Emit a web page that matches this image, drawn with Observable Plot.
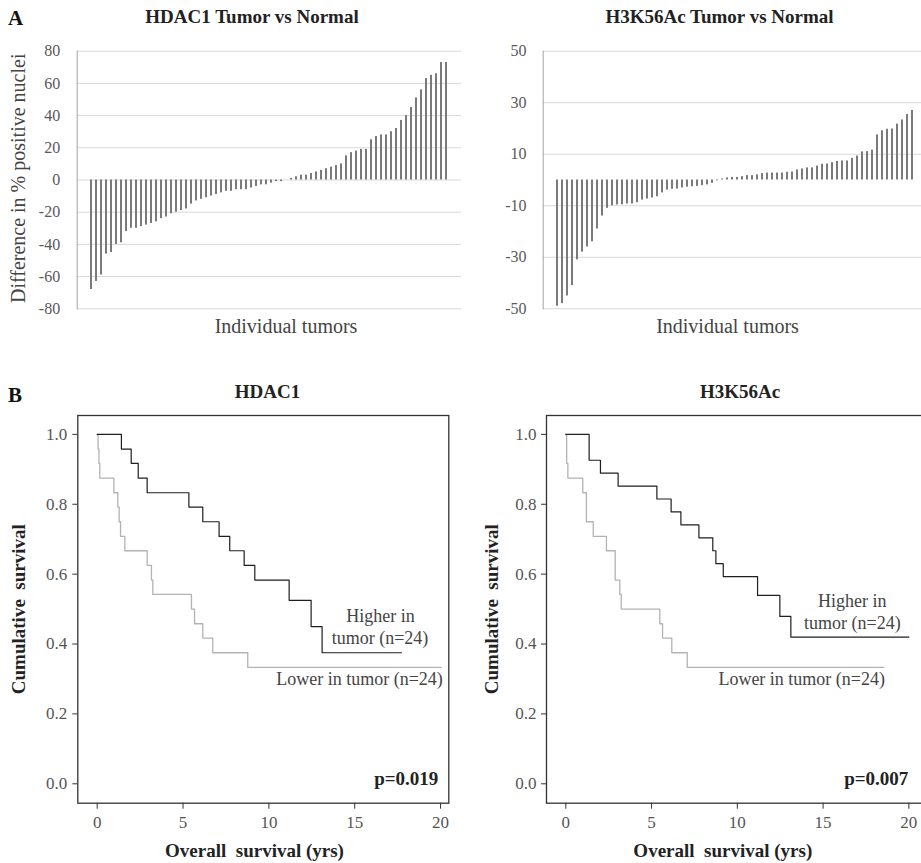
<!DOCTYPE html>
<html><head><meta charset="utf-8">
<script src="https://cdn.jsdelivr.net/npm/d3@7"></script>
<script src="https://cdn.jsdelivr.net/npm/@observablehq/plot@0.6"></script>
<style>
body{margin:0;background:#fff;}
#wrap{position:relative;width:921px;height:863px;overflow:hidden;background:#fff;}
#wrap > svg{position:absolute;}
</style></head><body><div id="wrap"></div>
<script>
// ---- Panel A data: difference in % positive nuclei, tumor minus normal, sorted ----
const hdac1Diff = [-68,-63,-59,-46,-45,-40,-39,-32,-30,-30,-29,-28,-27,-26,-24,-23,-21,-20,-19,-18,
  -15,-13,-12,-11,-10,-9,-8,-7,-7,-6,-6,-6,-5,-4,-3,-3,-2,-1,-1,0,
  1,2,3,3,4,5,6,7,8,9,10,15,17,18,19,19,25,27,28,28,30,32,37,40,45,51,56,63,65,66,73,73];
const h3k56Diff = [-49,-48,-45,-41,-31,-28,-26,-24,-19,-14,-11,-10,-9.7,-9.6,-9.3,-9.3,-8.8,-7.8,-7.4,-7,
  -6.5,-5,-3.9,-3.6,-3.5,-3.1,-2.8,-2.6,-2.5,-2.2,-1.9,-1.3,-0.3,
  0.4,0.8,1,1,1.3,1.7,1.7,2,2.5,2.7,2.7,2.7,2.7,3,3.1,3.9,4.3,4.7,4.7,5.4,6.1,6.2,6.7,7.2,7.4,7.4,
  8.4,9.3,10.9,11,11.6,17.5,19.1,19.7,19.8,21.7,23.3,25.4,27];
const hdac1DiffTicks = [80,60,40,20,0,-20,-40,-60,-80];
const h3k56DiffTicks = [50,30,10,-10,-30,-50];

// ---- Panel B data: Kaplan-Meier step points (time in yrs, cumulative survival) ----
const hdac1HighT = [0,1.41,1.98,2.39,2.91,5.34,6.15,7.10,7.72,8.56,9.18,11.18,12.46,13.10,17.72];
const hdac1HighS = [1,0.958,0.917,0.875,0.833,0.792,0.75,0.708,0.667,0.625,0.583,0.525,0.45,0.375,0.375];
const hdac1LowT  = [0,0.05,0.10,0.15,0.97,1.20,1.28,1.36,1.61,2.91,3.16,3.24,5.49,5.67,6.15,6.73,8.77,20.03];
const hdac1LowS  = [1,0.958,0.917,0.875,0.833,0.792,0.75,0.708,0.667,0.625,0.583,0.542,0.5,0.458,0.417,0.375,0.333,0.333];
const h3k56HighT = [0,1.36,2.02,3.05,5.31,6.14,6.71,7.76,8.57,8.75,9.18,11.18,12.48,13.12,20];
const h3k56HighS = [1,0.926,0.889,0.852,0.815,0.778,0.741,0.704,0.667,0.630,0.593,0.539,0.479,0.420,0.420];
const h3k56LowT  = [0,0.05,0.12,0.99,1.20,1.60,2.37,2.88,3.15,3.23,5.48,5.64,6.18,7.08,18.54];
const h3k56LowS  = [1,0.917,0.875,0.833,0.75,0.708,0.667,0.583,0.542,0.5,0.458,0.417,0.375,0.333,0.333];
const survTicks = [0,0.2,0.4,0.6,0.8,1.0];
const yearTicks = [0,5,10,15,20];

const FONT = 'Times';
const wrap = document.getElementById("wrap");

function place(svg, left, top) {
  svg.style.left = left + "px";
  svg.style.top = top + "px";
  wrap.appendChild(svg);
}

function barPanel(values, ticks, ml, mr, tp) {
  const data = values.map((v, i) => ({i, v}));
  return Plot.plot({
    width: 470, height: 320,
    marginTop: 50.7, marginBottom: 11.7, marginLeft: ml, marginRight: mr,
    style: {fontFamily: FONT, fontSize: "16px", color: "#595959", background: "transparent", overflow: "visible"},
    x: {type: "band", domain: d3.range(values.length), paddingInner: 0.6, paddingOuter: 0.27, axis: null},
    y: {domain: [ticks[ticks.length - 1], ticks[0]]},
    marks: [
      Plot.gridY(ticks, {stroke: "#d9d9d9", strokeOpacity: 1}),
      Plot.frame({anchor: "left", stroke: "#a6a6a6"}),
      Plot.barY(data, {x: "i", y: "v", fill: "#7a7a7a"}),
      Plot.axisY(ticks, {tickSize: 0, tickPadding: tp, fill: "#595959", fontFamily: FONT, label: null, tickFormat: d => String(d)})
    ]
  });
}

function kmPanel(hT, hS, lT, lS, ml, mr, xd, tp) {
  const high = hT.map((t, i) => ({t, s: hS[i]}));
  const low = lT.map((t, i) => ({t, s: lS[i]}));
  return Plot.plot({
    width: 470, height: 440,
    marginTop: 15, marginBottom: 37.3, marginLeft: ml, marginRight: mr,
    style: {fontFamily: FONT, fontSize: "17px", color: "#444", background: "transparent", overflow: "visible"},
    x: {domain: xd},
    y: {domain: [-0.0555, 1.054]},
    marks: [
      Plot.line(low, {x: "t", y: "s", curve: "step-after", stroke: "#b3b3b3", strokeWidth: 1.3}),
      Plot.line(high, {x: "t", y: "s", curve: "step-after", stroke: "#1f1f1f", strokeWidth: 1.2}),
      Plot.frame({stroke: "#333", strokeWidth: 1.3}),
      Plot.axisY(survTicks, {tickSize: 5, tickPadding: tp, stroke: "#333", fill: "#555", fontFamily: FONT, label: null, tickFormat: d => d.toFixed(1)}),
      Plot.axisX(yearTicks, {tickSize: 6, tickPadding: 7, stroke: "#333", fill: "#555", fontFamily: FONT, label: null, tickFormat: d => String(d)})
    ]
  });
}

place(barPanel(hdac1Diff, hdac1DiffTicks, 76.7, 9, 17), 0, 0);
place(barPanel(h3k56Diff, h3k56DiffTicks, 82.7, 2.9, 16.7), 460, 0);
place(kmPanel(hdac1HighT, hdac1HighS, hdac1LowT, hdac1LowS, 77.3, 21.7, [-1.13, 20.48], 5.6), 0, 400);
place(kmPanel(h3k56HighT, h3k56HighS, h3k56LowT, h3k56LowS, 86, 5, [-1.125, 20.97], 5), 460, 400);

// ---- Text overlay ----
const labels = [
  {t: "A", x: 8, y: 25, s: 21, w: "bold", a: "start", c: "#111"},
  {t: "HDAC1 Tumor vs Normal", x: 252, y: 23.3, s: 19, w: "bold", a: "middle", c: "#222"},
  {t: "H3K56Ac Tumor vs Normal", x: 719.5, y: 23.3, s: 19, w: "bold", a: "middle", c: "#222"},
  {t: "Difference in % positive nuclei", x: 25, y: 178.3, s: 20, a: "middle", c: "#444", r: true},
  {t: "Individual tumors", x: 286, y: 333.3, s: 20, a: "middle", c: "#444"},
  {t: "Individual tumors", x: 727.5, y: 333.3, s: 20, a: "middle", c: "#444"},
  {t: "B", x: 8, y: 401.7, s: 21, w: "bold", a: "start", c: "#111"},
  {t: "HDAC1", x: 267.5, y: 398.3, s: 19, w: "bold", a: "middle", c: "#222"},
  {t: "H3K56Ac", x: 740, y: 398.3, s: 19, w: "bold", a: "middle", c: "#222"},
  {t: "Cumulative\u00a0 survival", x: 25, y: 609.2, s: 19, w: "bold", a: "middle", c: "#222", r: true},
  {t: "Cumulative\u00a0 survival", x: 498.3, y: 609.2, s: 19, w: "bold", a: "middle", c: "#222", r: true},
  {t: "Overall\u00a0 survival (yrs)", x: 254.5, y: 856.7, s: 19, w: "bold", a: "middle", c: "#222"},
  {t: "Overall\u00a0 survival (yrs)", x: 722.8, y: 856.7, s: 19, w: "bold", a: "middle", c: "#222"},
  {t: "Higher in", x: 380.5, y: 621.7, s: 18, a: "middle", c: "#444"},
  {t: "tumor (n=24)", x: 380, y: 644, s: 18, a: "middle", c: "#444"},
  {t: "Lower in tumor (n=24)", x: 359.5, y: 685, s: 18, a: "middle", c: "#444"},
  {t: "Higher in", x: 852.2, y: 606.7, s: 18, a: "middle", c: "#444"},
  {t: "tumor (n=24)", x: 852.3, y: 629.3, s: 18, a: "middle", c: "#444"},
  {t: "Lower in tumor (n=24)", x: 801.7, y: 685, s: 18, a: "middle", c: "#444"},
  {t: "p=0.019", x: 438.3, y: 785, s: 19, w: "bold", a: "end", c: "#222"},
  {t: "p=0.007", x: 908.3, y: 785, s: 19, w: "bold", a: "end", c: "#222"}
];
const ov = d3.create("svg").attr("width", 921).attr("height", 863)
  .style("left", "0px").style("top", "0px").style("pointer-events", "none");
ov.selectAll("text").data(labels).join("text")
  .attr("transform", d => d.r ? `translate(${d.x},${d.y}) rotate(-90)` : `translate(${d.x},${d.y})`)
  .attr("text-anchor", d => d.a)
  .attr("font-family", FONT)
  .attr("font-size", d => d.s)
  .attr("font-weight", d => d.w || null)
  .attr("fill", d => d.c)
  .text(d => d.t);
wrap.appendChild(ov.node());
</script></body></html>
